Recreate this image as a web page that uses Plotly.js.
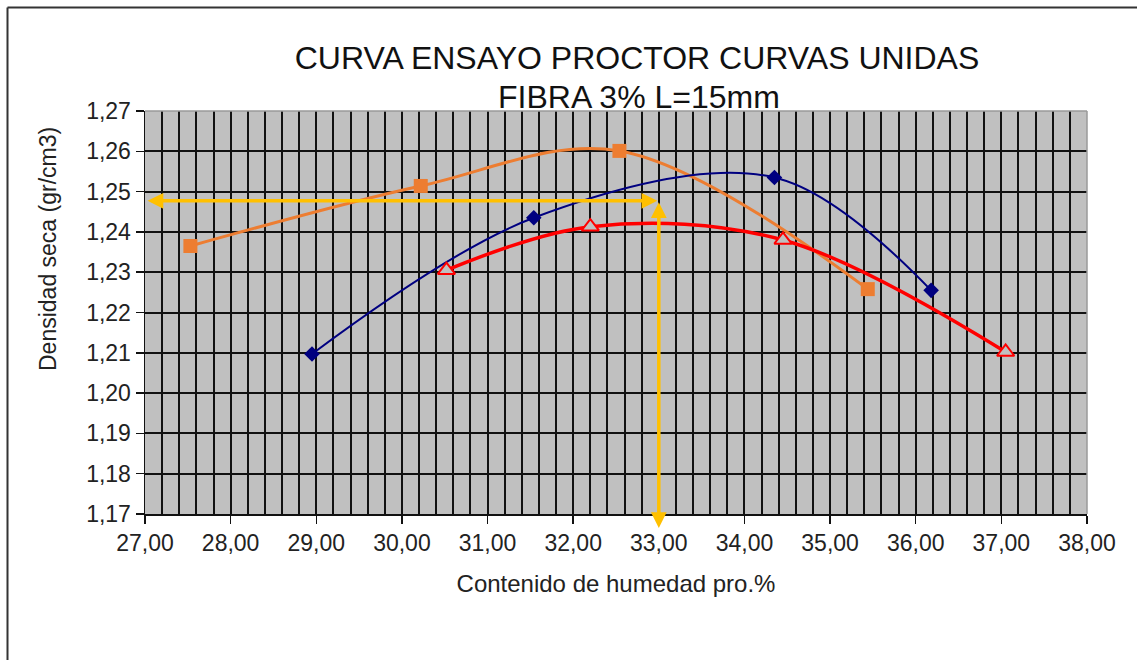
<!DOCTYPE html>
<html>
<head>
<meta charset="utf-8">
<script src="https://cdn.plot.ly/plotly-3.0.1.min.js"></script>
<style>
  html, body { margin: 0; padding: 0; background: #ffffff; overflow: hidden; }
  #chart { width: 1137px; height: 660px; }
</style>
</head>
<body>
<div id="chart"></div>
<script>
// ---- data ----
const titleLine1 = 'CURVA ENSAYO PROCTOR CURVAS UNIDAS';
const titleLine2 = 'FIBRA 3% L=15mm';
const xTitle = 'Contenido de humedad pro.%';
const yTitle = 'Densidad seca (gr/cm3)';

const orangeX = [27.53, 30.22, 32.54, 35.44];
const orangeY = [1.2365, 1.2514, 1.2601, 1.2258];

const blueX = [28.95, 31.54, 34.35, 36.18];
const blueY = [1.2097, 1.2435, 1.2535, 1.2255];

const redX = [30.52, 32.20, 34.45, 37.05];
const redY = [1.2305, 1.2413, 1.2380, 1.2102];

// optimum reading (arrows)
const optX = 33.00;
const optY = 1.2477;
const xMin = 27, xMax = 38;
const yMin = 1.17, yMax = 1.27;

const FONT = 'Liberation Sans, Arial, sans-serif';

const traces = [
  {
    x: orangeX, y: orangeY, type: 'scatter', mode: 'lines+markers',
    line: { color: '#ED7D31', width: 3, shape: 'spline' },
    marker: { symbol: 'square', size: 14, color: '#ED7D31' },
    name: 'Serie 1'
  },
  {
    x: blueX, y: blueY, type: 'scatter', mode: 'lines+markers',
    line: { color: '#000080', width: 2, shape: 'spline' },
    marker: { symbol: 'diamond', size: 12, color: '#000080' },
    name: 'Serie 2'
  },
  {
    x: redX, y: redY, type: 'scatter', mode: 'lines+markers',
    line: { color: '#FF0000', width: 3.5, shape: 'spline' },
    marker: { symbol: 'triangle-up', size: 15, color: '#C0C0C0', line: { color: '#FF0000', width: 2 } },
    name: 'Serie 3'
  }
];

const plotH = 403, plotL = 145, plotW = 942, plotB = 514;
function px2paperX(p) { return (p - plotL) / plotW; }
function px2paperY(p) { return (plotB - p) / plotH; }

const layout = {
  width: 1137, height: 660,
  margin: { l: 145, r: 50, t: 111, b: 146 },
  paper_bgcolor: '#ffffff',
  plot_bgcolor: '#C0C0C0',
  separators: ',.',
  showlegend: false,
  title: {
    text: titleLine1,
    x: 637 / 1137, xanchor: 'center', xref: 'container',
    y: 1 - 58 / 660, yanchor: 'middle', yref: 'container',
    font: { family: FONT, size: 32, color: '#111111' }
  },
  xaxis: {
    range: [xMin, xMax], dtick: 1, tick0: 27, tickformat: '.2f',
    showgrid: true, gridcolor: '#111111', gridwidth: 2,
    minor: { dtick: 0.2, showgrid: true, gridcolor: '#111111', gridwidth: 2 },
    showline: true, linecolor: '#111111', linewidth: 1.5,
    ticks: 'outside', ticklen: 8, tickcolor: '#111111', tickwidth: 1.5,
    tickfont: { family: FONT, size: 23, color: '#222222' },
    zeroline: false,
    title: { text: xTitle, font: { family: FONT, size: 24, color: '#222222' }, standoff: 20 }
  },
  yaxis: {
    range: [yMin, yMax], dtick: 0.01, tick0: 1.17, tickformat: '.2f',
    showgrid: true, gridcolor: '#111111', gridwidth: 2,
    showline: true, linecolor: '#111111', linewidth: 1.5,
    ticks: 'outside', ticklen: 8, tickcolor: '#111111', tickwidth: 1.5,
    tickfont: { family: FONT, size: 23, color: '#222222' },
    zeroline: false
  },
  annotations: [
    {
      text: titleLine2, showarrow: false,
      xref: 'paper', yref: 'paper',
      x: px2paperX(639), y: px2paperY(97), xanchor: 'center', yanchor: 'middle',
      font: { family: FONT, size: 32, color: '#111111' }
    },
    {
      text: yTitle, showarrow: false, textangle: -90,
      xref: 'paper', yref: 'paper',
      x: px2paperX(48), y: px2paperY(249), xanchor: 'center', yanchor: 'middle',
      font: { family: FONT, size: 23, color: '#222222' }
    },
    {
      // horizontal double arrow
      text: '', showarrow: true,
      xref: 'x', yref: 'y', axref: 'x', ayref: 'y',
      x: xMin + 0.03, y: optY, ax: optX, ay: optY,
      arrowhead: 2, startarrowhead: 2, arrowside: 'end+start',
      arrowsize: 0.9, startarrowsize: 0.9, arrowwidth: 3.5, arrowcolor: '#FFC000',
      standoff: 0, startstandoff: 0
    },
    {
      // vertical double arrow
      text: '', showarrow: true,
      xref: 'x', yref: 'y', axref: 'x', ayref: 'y',
      x: optX, y: yMin - 0.0035, ax: optX, ay: optY,
      arrowhead: 2, startarrowhead: 2, arrowside: 'end+start',
      arrowsize: 0.9, startarrowsize: 0.9, arrowwidth: 3.5, arrowcolor: '#FFC000',
      standoff: 0, startstandoff: 0
    }
  ],
  shapes: [
    // light border top/right of plot area
    { type: 'line', xref: 'paper', yref: 'paper', x0: 0, x1: 1, y0: 1, y1: 1, line: { color: '#9a9a9a', width: 1.5 } },
    { type: 'line', xref: 'paper', yref: 'paper', x0: 1, x1: 1, y0: 0, y1: 1, line: { color: '#9a9a9a', width: 1.5 } },
    // outer chart frame (left and top visible)
    { type: 'line', xref: 'paper', yref: 'paper', x0: px2paperX(7.5), x1: px2paperX(7.5), y0: px2paperY(7.5), y1: px2paperY(700), line: { color: '#333333', width: 2 } },
    { type: 'line', xref: 'paper', yref: 'paper', x0: px2paperX(7.5), x1: px2paperX(1200), y0: px2paperY(7.5), y1: px2paperY(7.5), line: { color: '#333333', width: 2 } }
  ]
};

Plotly.newPlot('chart', traces, layout, { displayModeBar: false, staticPlot: true });
</script>
</body>
</html>
